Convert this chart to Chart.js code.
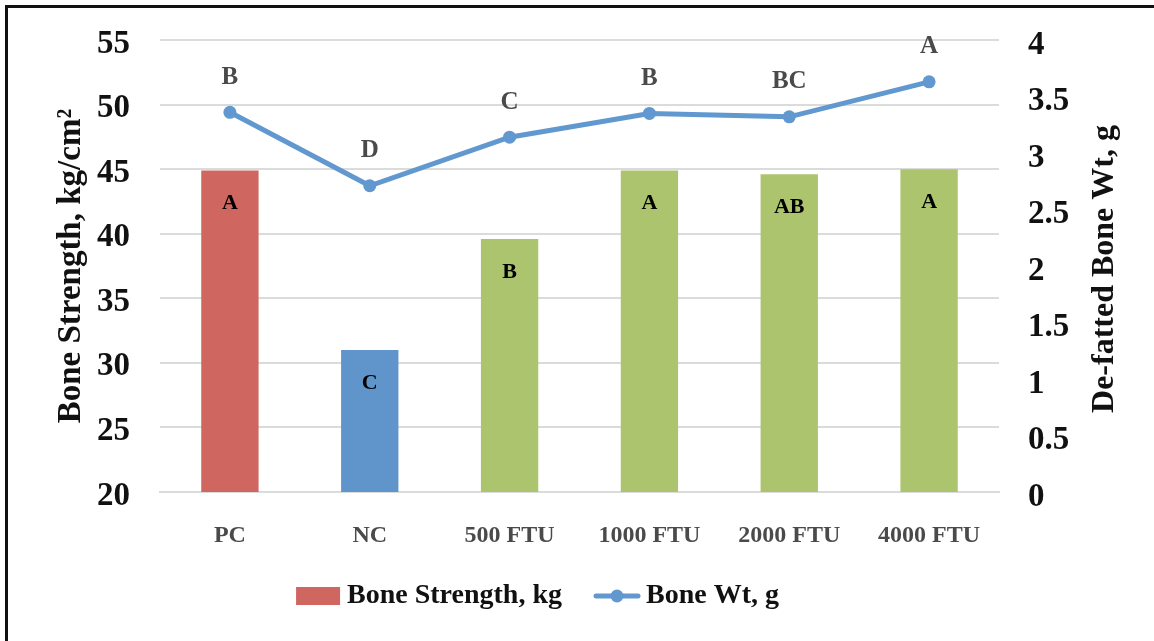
<!DOCTYPE html>
<html>
<head>
<meta charset="utf-8">
<script src="https://cdn.jsdelivr.net/npm/chart.js@4.4.1/dist/chart.umd.min.js"></script>
<style>
  html, body { margin: 0; padding: 0; background: #fff; }
  #wrap { position: relative; width: 1154px; height: 641px; overflow: hidden; }
  #frame {
    position: absolute; left: 5px; top: 5px; right: -10px; bottom: -10px;
    border-top: 3px solid #111; border-left: 3px solid #111;
  }
  #chart { position: absolute; left: 0; top: 0; }
</style>
</head>
<body>
<div id="wrap">
  <div id="frame"></div>
  <canvas id="chart" width="1154" height="641"></canvas>
</div>
<script>
// data
const categories      = ['PC', 'NC', '500 FTU', '1000 FTU', '2000 FTU', '4000 FTU'];
const boneStrength    = [44.9, 31.0, 39.6, 44.9, 44.6, 45.0];   // kg/cm2, left axis
const boneWt          = [3.36, 2.71, 3.14, 3.35, 3.32, 3.63];   // g, right axis
const strengthLetters = ['A', 'C', 'B', 'A', 'AB', 'A'];
const wtLetters       = ['B', 'D', 'C', 'B', 'BC', 'A'];
const leftTicks       = [20, 25, 30, 35, 40, 45, 50, 55];
const rightTicks      = [0, 0.5, 1, 1.5, 2, 2.5, 3, 3.5, 4];

const COLORS = {
  red:   '#cf6660',
  blue:  '#5f95cb',
  green: '#abc46d',
  line:  '#6198cf',
  grid:  '#dadcdc',
  text:  '#111111',
  gray:  '#4a4a4a'
};
const BAR_COLORS = [COLORS.red, COLORS.blue, COLORS.green, COLORS.green, COLORS.green, COLORS.green];
const FONT = "'Liberation Serif', 'DejaVu Serif', serif";

// legend icons (drawn as small canvases so the line entry shows line + dot)
function legendIcon(kind) {
  const c = document.createElement('canvas');
  c.width = 48; c.height = 20;
  const g = c.getContext('2d');
  if (kind === 'bar') {
    g.fillStyle = COLORS.red;
    g.fillRect(2, 1, 44, 18);
  } else {
    g.strokeStyle = COLORS.line;
    g.lineWidth = 5;
    g.lineCap = 'round';
    g.beginPath(); g.moveTo(3, 10); g.lineTo(45, 10); g.stroke();
    g.fillStyle = COLORS.line;
    g.beginPath(); g.arc(24, 10, 6.5, 0, Math.PI * 2); g.fill();
  }
  return c;
}

// y axes: no extra room for half tick labels, the plot top is set by layout padding
function noTickOverflow(s, width) {
  s.width = width;
  s.paddingTop = 0;
  s.paddingBottom = 0;
}

// ── letters above points / inside bars, plus right axis title read bottom-to-top
const letterPlugin = {
  id: 'letters',
  afterLayout(chart) {
    // legend sits a bit left of centre in the reference
    chart.legend.left -= 36;
    chart.legend.right -= 36;
  },
  afterDatasetsDraw(chart) {
    const ctx = chart.ctx;
    ctx.save();
    ctx.textAlign = 'center';
    ctx.textBaseline = 'middle';

    const bars = chart.getDatasetMeta(1).data;
    ctx.font = 'bold 22px ' + FONT;
    ctx.fillStyle = '#000';
    bars.forEach((b, i) => ctx.fillText(strengthLetters[i], b.x, b.y + 33));

    const pts = chart.getDatasetMeta(0).data;
    ctx.font = 'bold 25px ' + FONT;
    ctx.fillStyle = COLORS.gray;
    pts.forEach((p, i) => ctx.fillText(wtLetters[i], p.x, p.y - 35));

    const area = chart.chartArea;
    ctx.translate(1105, (area.top + area.bottom) / 2 + 3);
    ctx.rotate(-Math.PI / 2);
    ctx.font = 'bold 32px ' + FONT;
    ctx.fillStyle = COLORS.text;
    ctx.fillText('De-fatted Bone Wt, g', 0, 0);
    ctx.restore();
  }
};

new Chart(document.getElementById('chart'), {
  data: {
    labels: categories,
    datasets: [
      {
        type: 'line',
        label: 'Bone Wt, g',
        data: boneWt,
        yAxisID: 'y1',
        borderColor: COLORS.line,
        backgroundColor: COLORS.line,
        borderWidth: 5,
        pointRadius: 6.5,
        pointHoverRadius: 6.5,
        pointBackgroundColor: COLORS.line,
        pointBorderWidth: 0,
        tension: 0,
        order: 0
      },
      {
        type: 'bar',
        label: 'Bone Strength, kg',
        data: boneStrength,
        yAxisID: 'y',
        backgroundColor: BAR_COLORS,
        categoryPercentage: 1,
        barPercentage: 0.41,
        order: 1
      }
    ]
  },
  options: {
    responsive: false,
    animation: false,
    layout: { padding: { top: 40, bottom: 21, left: 0, right: 0 } },
    plugins: {
      tooltip: { enabled: false },
      legend: {
        position: 'bottom',
        labels: {
          usePointStyle: true,
          pointStyleWidth: 30,
          boxHeight: 20,
          padding: 40,
          color: COLORS.text,
          font: { family: FONT, size: 28, weight: 'bold' },
          generateLabels: chart => [
            { text: 'Bone Strength, kg', pointStyle: legendIcon('bar'), datasetIndex: 1, fontColor: COLORS.text, lineWidth: 0 },
            { text: 'Bone Wt, g', pointStyle: legendIcon('line'), datasetIndex: 0, fontColor: COLORS.text, lineWidth: 0 }
          ]
        }
      }
    },
    scales: {
      x: {
        grid: { display: false, drawTicks: false },
        border: { display: true, color: COLORS.grid, width: 2 },
        ticks: {
          color: COLORS.gray,
          padding: 29,
          maxRotation: 0,
          font: { family: FONT, size: 24, weight: 'bold' }
        },
        afterFit: s => { s.height = 50; }
      },
      y: {
        position: 'left',
        min: 20, max: 55,
        afterBuildTicks: s => { s.ticks = leftTicks.map(v => ({ value: v })); },
        grid: { color: COLORS.grid, lineWidth: 2, drawTicks: false },
        border: { display: false },
        ticks: {
          color: COLORS.text,
          padding: 30,
          labelOffset: 4,
          callback: v => String(v),
          font: { family: FONT, size: 33, weight: 'bold' }
        },
        title: {
          display: true,
          text: 'Bone Strength, kg/cm²',
          color: COLORS.text,
          padding: { top: 52, bottom: 0 },
          font: { family: FONT, size: 33, weight: 'bold' }
        },
        afterFit: s => noTickOverflow(s, 160)
      },
      y1: {
        position: 'right',
        min: 0, max: 4,
        afterBuildTicks: s => { s.ticks = rightTicks.map(v => ({ value: v })); },
        grid: { display: false, drawTicks: false },
        border: { display: false },
        ticks: {
          color: COLORS.text,
          padding: 29,
          labelOffset: 5,
          callback: v => String(v),
          font: { family: FONT, size: 33, weight: 'bold' }
        },
        afterFit: s => noTickOverflow(s, 155)
      }
    }
  },
  plugins: [letterPlugin]
});
</script>
</body>
</html>
